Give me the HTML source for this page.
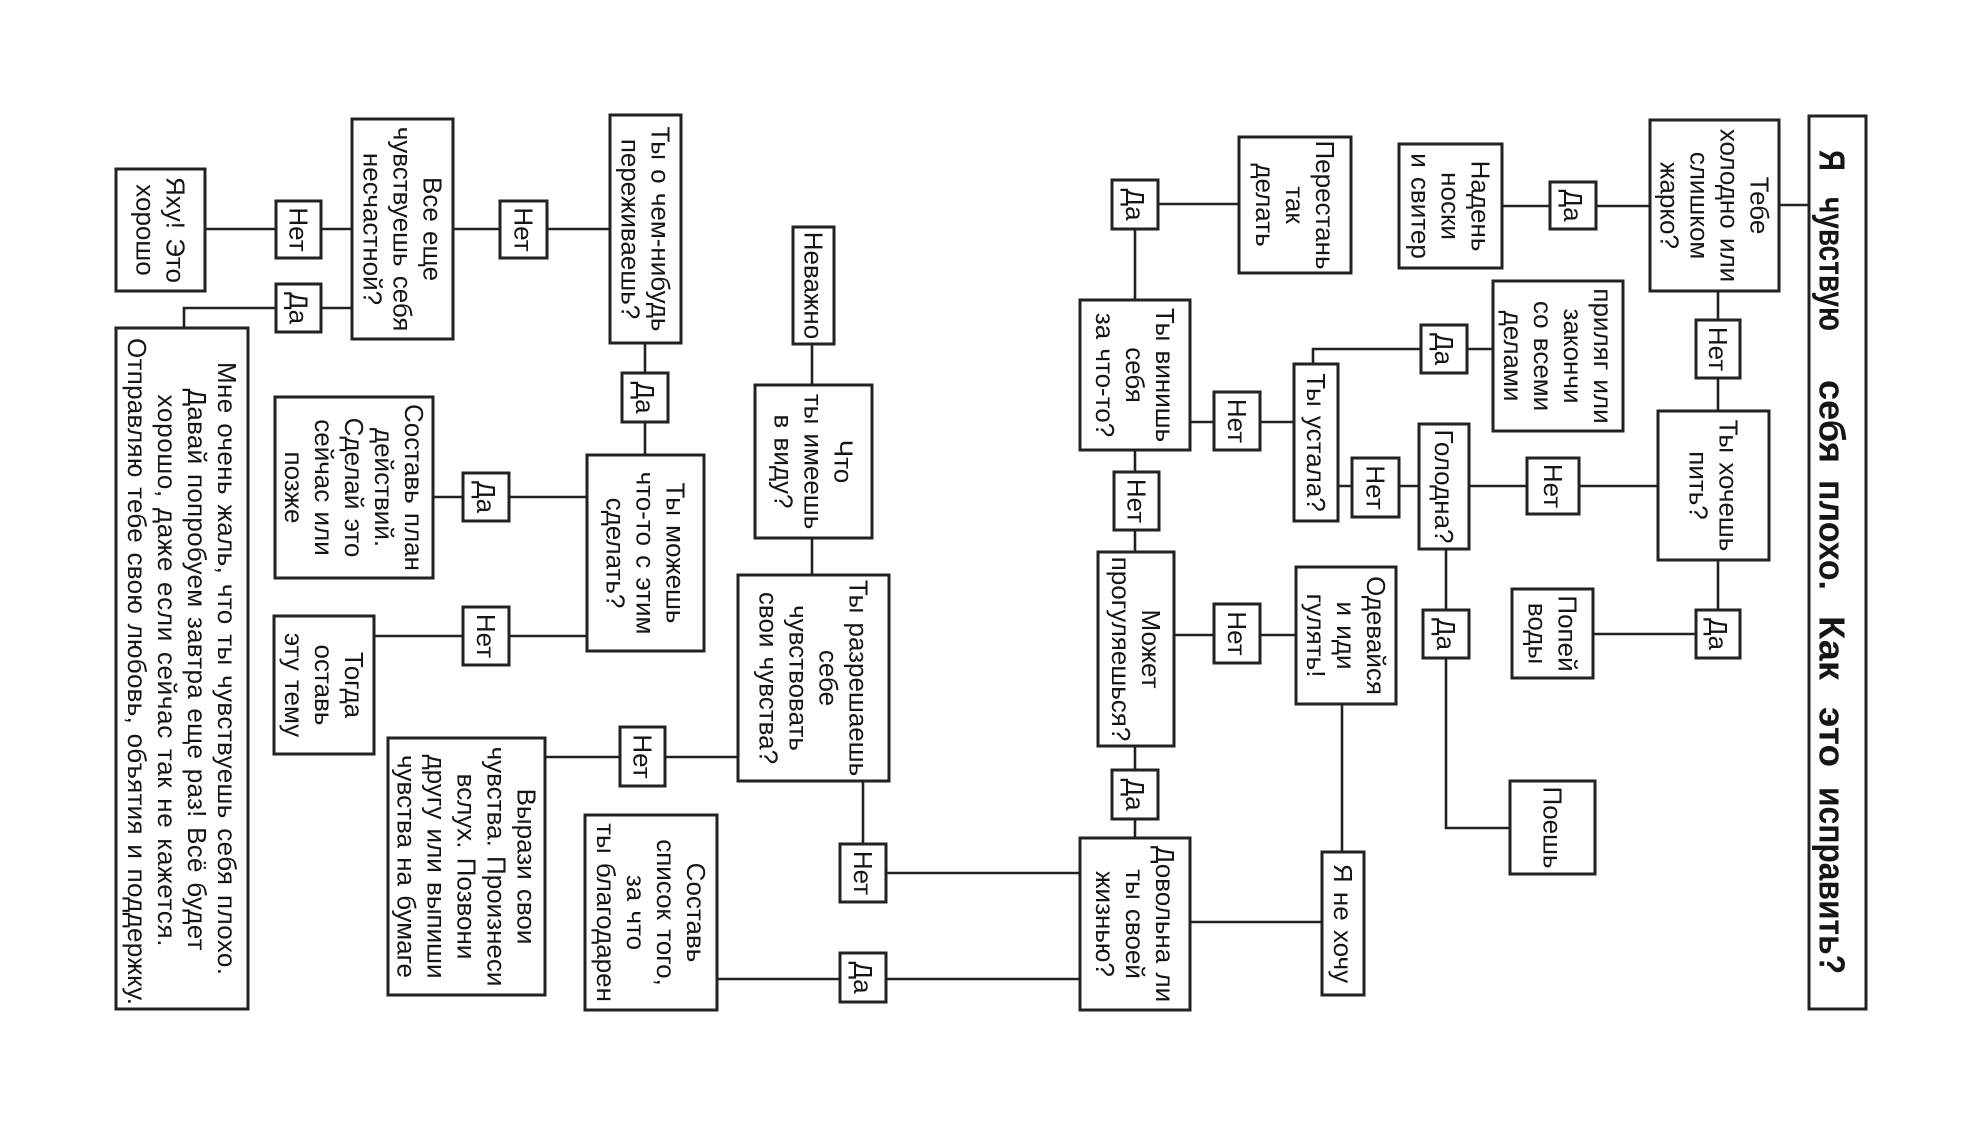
<!DOCTYPE html>
<html lang="ru">
<head>
<meta charset="utf-8">
<title>Я чувствую себя плохо. Как это исправить?</title>
<style>
  html, body { margin: 0; padding: 0; background: #fff; }
  body { width: 1978px; height: 1125px; overflow: hidden; }
  svg { display: block; }
  .ln { stroke: #222; stroke-width: 2.6; fill: none; }
  .bx { stroke: #222; stroke-width: 3; fill: #fff; }
  text { font-family: "Liberation Sans", "DejaVu Sans", sans-serif; font-size: 26px; fill: #151515;
         text-anchor: middle; dominant-baseline: central; word-spacing: 2px; }
  .title text { font-weight: bold; font-size: 36px; text-anchor: start; word-spacing: 0; }
</style>
</head>
<body>
<svg width="1978" height="1125" viewBox="0 0 1978 1125" xmlns="http://www.w3.org/2000/svg">
  <!-- connectors -->
  <g class="ln">
    <line x1="1779" y1="205" x2="1809" y2="205"/>
    <line x1="1502" y1="206" x2="1650" y2="206"/>
    <line x1="1718" y1="291" x2="1718" y2="411"/>
    <line x1="1718" y1="560" x2="1718" y2="634"/>
    <line x1="1593" y1="634" x2="1718" y2="634"/>
    <line x1="1469" y1="486" x2="1658" y2="486"/>
    <line x1="1338" y1="486" x2="1419" y2="486"/>
    <polyline points="1446,549 1446,828 1510,828"/>
    <polyline points="1493,349 1313,349 1313,364"/>
    <line x1="1190" y1="422" x2="1294" y2="422"/>
    <polyline points="1239,204 1135,204 1135,300"/>
    <line x1="1135" y1="450" x2="1135" y2="552"/>
    <line x1="1174" y1="635" x2="1296" y2="635"/>
    <line x1="1342" y1="704" x2="1342" y2="852"/>
    <line x1="1190" y1="922" x2="1322" y2="922"/>
    <line x1="1135" y1="746" x2="1135" y2="838"/>
    <polyline points="1080,873 863,873 863,781"/>
    <line x1="717" y1="979" x2="1080" y2="979"/>
    <line x1="545" y1="757" x2="738" y2="757"/>
    <line x1="812" y1="344" x2="812" y2="575"/>
    <line x1="645" y1="343" x2="645" y2="455"/>
    <line x1="453" y1="229" x2="610" y2="229"/>
    <line x1="205" y1="229" x2="352" y2="229"/>
    <polyline points="352,308 184,308 184,328"/>
    <line x1="433" y1="497" x2="587" y2="497"/>
    <line x1="374" y1="636" x2="587" y2="636"/>
  </g>

  <!-- boxes -->
  <g class="bx">
    <rect x="1809" y="116" width="57" height="893"/>
    <rect x="1650" y="120" width="129" height="171"/>
    <rect x="1550" y="182" width="46" height="47"/>
    <rect x="1399" y="144" width="103" height="124"/>
    <rect x="1696" y="320" width="44" height="58"/>
    <rect x="1658" y="411" width="111" height="149"/>
    <rect x="1493" y="281" width="130" height="150"/>
    <rect x="1421" y="325" width="46" height="48"/>
    <rect x="1294" y="364" width="44" height="157"/>
    <rect x="1352" y="458" width="47" height="59"/>
    <rect x="1419" y="424" width="50" height="125"/>
    <rect x="1527" y="458" width="52" height="56"/>
    <rect x="1696" y="610" width="44" height="48"/>
    <rect x="1512" y="589" width="81" height="89"/>
    <rect x="1423" y="610" width="46" height="48"/>
    <rect x="1510" y="781" width="85" height="93"/>
    <rect x="1296" y="567" width="100" height="137"/>
    <rect x="1322" y="852" width="42" height="143"/>
    <rect x="1239" y="137" width="112" height="136"/>
    <rect x="1112" y="180" width="46" height="49"/>
    <rect x="1080" y="300" width="110" height="150"/>
    <rect x="1214" y="392" width="46" height="58"/>
    <rect x="1114" y="472" width="45" height="58"/>
    <rect x="1098" y="552" width="76" height="194"/>
    <rect x="1214" y="604" width="46" height="59"/>
    <rect x="1112" y="770" width="46" height="49"/>
    <rect x="1080" y="838" width="110" height="172"/>
    <rect x="840" y="844" width="46" height="58"/>
    <rect x="840" y="953" width="46" height="49"/>
    <rect x="738" y="575" width="151" height="206"/>
    <rect x="585" y="815" width="132" height="195"/>
    <rect x="755" y="385" width="117" height="153"/>
    <rect x="793" y="227" width="41" height="117"/>
    <rect x="610" y="115" width="71" height="228"/>
    <rect x="500" y="201" width="47" height="57"/>
    <rect x="352" y="119" width="101" height="220"/>
    <rect x="276" y="201" width="45" height="57"/>
    <rect x="116" y="169" width="89" height="122"/>
    <rect x="276" y="284" width="45" height="48"/>
    <rect x="116" y="328" width="132" height="681"/>
    <rect x="622" y="373" width="46" height="49"/>
    <rect x="587" y="455" width="117" height="196"/>
    <rect x="463" y="473" width="46" height="48"/>
    <rect x="275" y="397" width="158" height="181"/>
    <rect x="463" y="607" width="46" height="58"/>
    <rect x="274" y="616" width="100" height="138"/>
    <rect x="388" y="738" width="157" height="257"/>
    <rect x="620" y="727" width="45" height="59"/>
  </g>

  <!-- title -->
  <g class="title" transform="translate(1832,0) rotate(90)">
    <text x="150" y="0" textLength="21" lengthAdjust="spacingAndGlyphs">Я</text>
    <text x="197" y="0" textLength="134" lengthAdjust="spacingAndGlyphs">чувствую</text>
    <text x="380" y="0" textLength="83" lengthAdjust="spacingAndGlyphs">себя</text>
    <text x="480" y="0" textLength="110" lengthAdjust="spacingAndGlyphs">плохо.</text>
    <text x="616" y="0" textLength="64" lengthAdjust="spacingAndGlyphs">Как</text>
    <text x="707" y="0" textLength="60" lengthAdjust="spacingAndGlyphs">это</text>
    <text x="787" y="0" textLength="187" lengthAdjust="spacingAndGlyphs">исправить?</text>
  </g>

  <!-- box texts -->
  <g transform="translate(1714.5,205.5) rotate(90)">
    <text y="-45">Тебе</text><text y="-15">холодно или</text><text y="15">слишком</text><text y="45">жарко?</text>
  </g>
  <g transform="translate(1573,205.5) rotate(90)"><text>Да</text></g>
  <g transform="translate(1450.5,206) rotate(90)">
    <text y="-30">Надень</text><text y="0">носки</text><text y="30">и свитер</text>
  </g>
  <g transform="translate(1718,349) rotate(90)"><text>Нет</text></g>
  <g transform="translate(1713.5,485.5) rotate(90)">
    <text y="-15">Ты хочешь</text><text y="15">пить?</text>
  </g>
  <g transform="translate(1558,356) rotate(90)">
    <text y="-45">приляг или</text><text y="-15">закончи</text><text y="15">со всеми</text><text y="45">делами</text>
  </g>
  <g transform="translate(1444,349) rotate(90)"><text>Да</text></g>
  <g transform="translate(1316,442.5) rotate(90)"><text>Ты устала?</text></g>
  <g transform="translate(1375.5,487.5) rotate(90)"><text>Нет</text></g>
  <g transform="translate(1444,486.5) rotate(90)"><text>Голодна?</text></g>
  <g transform="translate(1553,486) rotate(90)"><text>Нет</text></g>
  <g transform="translate(1718,634) rotate(90)"><text>Да</text></g>
  <g transform="translate(1552.5,633.5) rotate(90)">
    <text y="-15">Попей</text><text y="15">воды</text>
  </g>
  <g transform="translate(1446,634) rotate(90)"><text>Да</text></g>
  <g transform="translate(1552.5,827.5) rotate(90)"><text>Поешь</text></g>
  <g transform="translate(1346,635.5) rotate(90)">
    <text y="-30">Одевайся</text><text y="0">и иди</text><text y="30">гулять!</text>
  </g>
  <g transform="translate(1343,923.5) rotate(90)"><text>Я не хочу</text></g>
  <g transform="translate(1295,205) rotate(90)">
    <text y="-30">Перестань</text><text y="0">так</text><text y="30">делать</text>
  </g>
  <g transform="translate(1135,204.5) rotate(90)"><text>Да</text></g>
  <g transform="translate(1135,375) rotate(90)">
    <text y="-30">Ты винишь</text><text y="0">себя</text><text y="30">за что-то?</text>
  </g>
  <g transform="translate(1237,421) rotate(90)"><text>Нет</text></g>
  <g transform="translate(1136.5,501) rotate(90)"><text>Нет</text></g>
  <g transform="translate(1136,649) rotate(90)">
    <text y="-15">Может</text><text y="15">прогуляешься?</text>
  </g>
  <g transform="translate(1237,633.5) rotate(90)"><text>Нет</text></g>
  <g transform="translate(1135,794.5) rotate(90)"><text>Да</text></g>
  <g transform="translate(1135,924) rotate(90)">
    <text y="-30">Довольна ли</text><text y="0">ты своей</text><text y="30">жизнью?</text>
  </g>
  <g transform="translate(863,873) rotate(90)"><text>Нет</text></g>
  <g transform="translate(863,977.5) rotate(90)"><text>Да</text></g>
  <g transform="translate(813.5,678) rotate(90)">
    <text y="-45">Ты разрешаешь</text><text y="-15">себе</text><text y="15">чувствовать</text><text y="45">свои чувства?</text>
  </g>
  <g transform="translate(651,912.5) rotate(90)">
    <text y="-45">Составь</text><text y="-15">список того,</text><text y="15">за что</text><text y="45">ты благодарен</text>
  </g>
  <g transform="translate(813.5,461.5) rotate(90)">
    <text y="-30">Что</text><text y="0">ты имеешь</text><text y="30">в виду?</text>
  </g>
  <g transform="translate(813.5,285.5) rotate(90)"><text>Неважно</text></g>
  <g transform="translate(645.5,229) rotate(90)">
    <text y="-15">Ты о чем-нибудь</text><text y="15">переживаешь?</text>
  </g>
  <g transform="translate(523.5,229.5) rotate(90)"><text>Нет</text></g>
  <g transform="translate(402.5,229) rotate(90)">
    <text y="-30">Все еще</text><text y="0">чувствуешь себя</text><text y="30">несчастной?</text>
  </g>
  <g transform="translate(298.5,229.5) rotate(90)"><text>Нет</text></g>
  <g transform="translate(160.5,230) rotate(90)">
    <text y="-15">Яху! Это</text><text y="15">хорошо</text>
  </g>
  <g transform="translate(298.5,308) rotate(90)"><text>Да</text></g>
  <g transform="translate(182,668.5) rotate(90)">
    <text x="0" y="-45" textLength="613" lengthAdjust="spacing">Мне очень жаль, что ты чувствуешь себя плохо.</text>
    <text x="1" y="-15" textLength="562" lengthAdjust="spacing">Давай попробуем завтра еще раз! Всё будет</text>
    <text x="2" y="15" textLength="552" lengthAdjust="spacing">хорошо, даже если сейчас так не кажется.</text>
    <text x="3" y="45" textLength="667" lengthAdjust="spacing">Отправляю тебе свою любовь, объятия и поддержку.</text>
  </g>
  <g transform="translate(645,397.5) rotate(90)"><text>Да</text></g>
  <g transform="translate(645.5,553) rotate(90)">
    <text y="-30">Ты можешь</text><text y="0">что-то с этим</text><text y="30">сделать?</text>
  </g>
  <g transform="translate(486,497) rotate(90)"><text>Да</text></g>
  <g transform="translate(354,487.5) rotate(90)">
    <text y="-60">Составь план</text><text y="-30">действий.</text><text y="0">Сделай это</text><text y="30">сейчас или</text><text y="60">позже</text>
  </g>
  <g transform="translate(486,636) rotate(90)"><text>Нет</text></g>
  <g transform="translate(324,685) rotate(90)">
    <text y="-30">Тогда</text><text y="0">оставь</text><text y="30">эту тему</text>
  </g>
  <g transform="translate(466.5,866.5) rotate(90)">
    <text y="-60">Вырази свои</text><text y="-30">чувства. Произнеси</text><text y="0">вслух. Позвони</text><text y="30">другу или выпиши</text><text y="60">чувства на бумаге</text>
  </g>
  <g transform="translate(642.5,756.5) rotate(90)"><text>Нет</text></g>
</svg>
</body>
</html>
